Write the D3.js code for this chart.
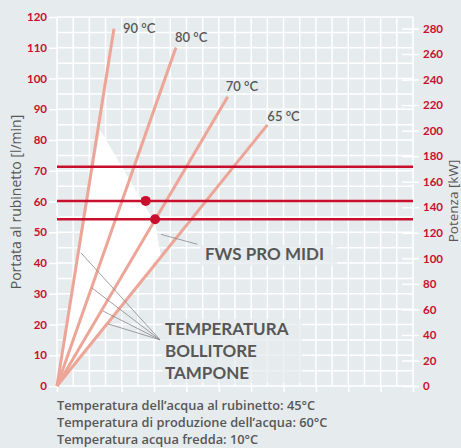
<!DOCTYPE html>
<html>
<head>
<meta charset="utf-8">
<script src="https://cdn.jsdelivr.net/npm/d3@7"></script>
<style>
  html, body { margin: 0; padding: 0; background: #e6ebee; }
  svg { display: block; font-family: Lato, "Open Sans", sans-serif; }
</style>
</head>
<body>
<div id="chart"></div>
<script>
// temperature curves (end point of each straight line, from origin)
var tempLabels = ["90 °C", "80 °C", "70 °C", "65 °C"];
var lineEndX = [3.52, 7.35, 10.55, 13.0];
var lineEndY = [116.2, 110.1, 94.1, 84.9];

// horizontal operating levels [l/min]
var levels = [71.3, 60.2, 54.2];

// operating points
var dotX = [5.48, 6.06];
var dotY = [60.2, 54.2];

// white area of the FWS PRO MIDI field
var areaX = [0, 2.66, 6.06, 6.43];
var areaY = [0, 83.3, 53.0, 42.0];

// leader lines for "TEMPERATURA BOLLITORE TAMPONE"
var leaderX = [1.48, 2.16, 2.84, 3.15];
var leaderY = [43.3, 31.9, 24.4, 20.2];
var leaderEnd = [6.37, 15.0];
var fwsLeader = [[6.43, 49.3], [8.67, 46.1]];

var leftTicks = d3.range(0, 121, 10);
var rightTicks = d3.range(0, 281, 20);
var notes = [
    "Temperatura dell\u2019acqua al rubinetto: 45°C",
    "Temperatura di produzione dell\u2019acqua: 60°C",
    "Temperatura acqua fredda: 10°C"
];

var W = 461, H = 448;
var red = "#c8102e", salmon = "#eca597", grey = "#575757", bg = "#e6ebee";

var svg = d3.select("#chart").append("svg")
    .attr("width", W)
    .attr("height", H);

var x = d3.scaleLinear().domain([0, 22]).range([57, 413]);
var y = d3.scaleLinear().domain([0, 120]).range([386, 17]);
var yR = d3.scaleLinear().domain([0, 289]).range([386, 17]);

// grid
svg.append("g")
    .selectAll("line")
    .data(d3.range(0, 23, 1))
    .enter().append("line")
    .attr("x1", function (d) { return x(d); })
    .attr("x2", function (d) { return x(d); })
    .attr("y1", y(0))
    .attr("y2", y(120))
    .attr("stroke", "#fff")
    .attr("stroke-width", 1.5);
svg.append("g")
    .selectAll("line")
    .data(d3.range(0, 121, 5))
    .enter().append("line")
    .attr("x1", x(0))
    .attr("x2", x(22))
    .attr("y1", function (d) { return y(d); })
    .attr("y2", function (d) { return y(d); })
    .attr("stroke", "#fff")
    .attr("stroke-width", 1.5);

// white field
svg.append("path")
    .datum(d3.range(areaX.length))
    .attr("fill", "#fff")
    .attr("d", d3.line()
        .x(function (i) { return x(areaX[i]); })
        .y(function (i) { return y(areaY[i]); }));

// axes
var axL = svg.append("g")
    .attr("transform", "translate(" + x(0) + ",0)")
    .call(d3.axisLeft(y).tickValues(leftTicks).tickSize(8).tickPadding(2));
var axR = svg.append("g")
    .attr("transform", "translate(" + (x(22) - 11) + ",0)")
    .call(d3.axisRight(yR).tickValues(rightTicks).tickSize(17).tickPadding(4));
var axB = svg.append("g")
    .attr("transform", "translate(0," + y(0) + ")")
    .call(d3.axisBottom(x).tickValues(d3.range(0, 23, 2)).tickSize(6).tickFormat(""));
[axL, axR, axB].forEach(function (ax) {
    ax.select(".domain").remove();
    ax.selectAll("line").attr("stroke", "#fff").attr("stroke-width", 1.5);
    ax.selectAll("text")
        .attr("fill", red)
        .style("font-family", "Lato, sans-serif")
        .style("font-size", "11.5px")
        .style("font-weight", "bold");
});

// label boxes (soften grid behind texts)
svg.append("rect")
    .attr("x", 200).attr("y", 245).attr("width", 137).attr("height", 21)
    .attr("fill", bg).attr("opacity", 0.7);
svg.append("rect")
    .attr("x", 162).attr("y", 319).attr("width", 140).attr("height", 64)
    .attr("fill", bg).attr("opacity", 0.7);

// temperature lines
var lineOffsets = [[9, 4], [-1, -5], [-2, -6], [0, -4]];
tempLabels.forEach(function (t, i) {
    svg.append("line")
        .attr("x1", x(0)).attr("y1", y(0))
        .attr("x2", x(lineEndX[i])).attr("y2", y(lineEndY[i]))
        .attr("stroke", salmon)
        .attr("stroke-width", 3);
    svg.append("text")
        .attr("x", x(lineEndX[i]) + lineOffsets[i][0])
        .attr("y", y(lineEndY[i]) + lineOffsets[i][1])
        .attr("fill", grey)
        .style("font-size", "13px")
        .style("font-weight", "600")
        .text(t);
});

// levels
svg.append("g")
    .selectAll("line")
    .data(levels)
    .enter().append("line")
    .attr("x1", x(0)).attr("x2", x(22))
    .attr("y1", function (d) { return y(d); })
    .attr("y2", function (d) { return y(d); })
    .attr("stroke", red)
    .attr("stroke-width", 2.5);

svg.append("g")
    .selectAll("circle")
    .data(dotX)
    .enter().append("circle")
    .attr("cx", function (d) { return x(d); })
    .attr("cy", function (d, i) { return y(dotY[i]); })
    .attr("r", 5)
    .attr("fill", red);

// leader lines
leaderX.forEach(function (lx, i) {
    svg.append("line")
        .attr("x1", x(lx)).attr("y1", y(leaderY[i]))
        .attr("x2", x(leaderEnd[0])).attr("y2", y(leaderEnd[1]))
        .attr("stroke", "#888")
        .attr("stroke-width", 0.8);
});
svg.append("line")
    .attr("x1", x(fwsLeader[0][0])).attr("y1", y(fwsLeader[0][1]))
    .attr("x2", x(fwsLeader[1][0])).attr("y2", y(fwsLeader[1][1]))
    .attr("stroke", "#888")
    .attr("stroke-width", 0.8);

svg.append("text")
    .attr("x", 205).attr("y", 260)
    .attr("fill", grey)
    .style("font-size", "17px")
    .style("font-weight", "bold")
    .text("FWS PRO MIDI");

["TEMPERATURA", "BOLLITORE", "TAMPONE"].forEach(function (t, i) {
    svg.append("text")
        .attr("x", 165).attr("y", 335 + i * 22)
        .attr("fill", grey)
        .style("font-size", "17px")
        .style("font-weight", "bold")
        .text(t);
});

// axis titles
svg.append("text")
    .attr("transform", "translate(21,202) rotate(-90)")
    .attr("text-anchor", "middle")
    .attr("fill", grey)
    .style("font-family", "'Open Sans', sans-serif")
    .style("font-size", "14px")
    .text("Portata al rubinetto [l/min]");
svg.append("text")
    .attr("transform", "translate(458,201) rotate(-90)")
    .attr("text-anchor", "middle")
    .attr("fill", grey)
    .style("font-family", "'Open Sans', sans-serif")
    .style("font-size", "13.5px")
    .text("Potenza [kW]");

// notes
notes.forEach(function (n, i) {
    svg.append("text")
        .attr("x", 57).attr("y", 410 + i * 17)
        .attr("fill", grey)
        .style("font-family", "'Open Sans', sans-serif")
        .style("font-size", "12.8px")
        .style("font-weight", "600")
        .text(n);
});
</script>
</body>
</html>
